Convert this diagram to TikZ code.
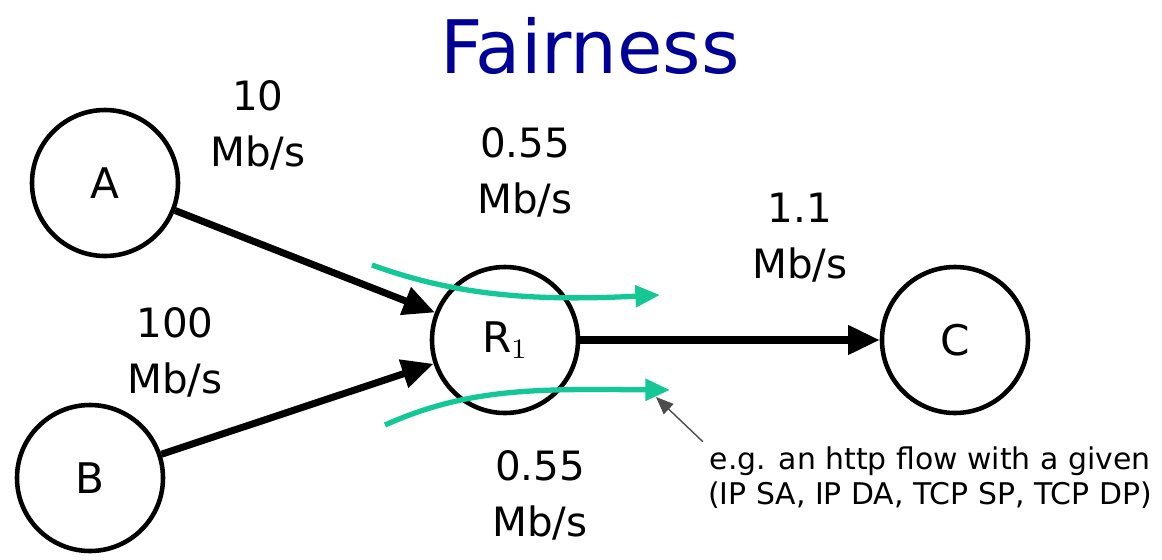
\documentclass[tikz,border=0pt]{standalone}
\usepackage{fontspec}
\setmainfont{DejaVu Sans}
\usepackage{xcolor}
\usetikzlibrary{arrows.meta,positioning}
\definecolor{titleblue}{RGB}{0,0,150}
\definecolor{flowgreen}{RGB}{20,200,150}

\begin{document}
\begin{tikzpicture}[x=1cm,y=1cm,
  hostnode/.style={circle, draw=black, line width=1.3pt, minimum size=1.46cm,
    inner sep=0pt, font=\fontsize{12}{14}\selectfont},
  rate/.style={align=center, font=\fontsize{11.5}{16}\selectfont},
  link/.style={-{Triangle[length=9pt,width=8pt]}, line width=2pt, black},
  flow/.style={-{Triangle[length=7pt,width=6pt]}, line width=1.5pt, flowgreen},
  note/.style={align=center, font=\fontsize{8.5}{10}\selectfont}
]
  \useasboundingbox (0,0) rectangle (11.62,5.59);

  % title
  \node[text=titleblue, font=\fontsize{21}{25}\selectfont] (title) at (5.9,5.13) {Fairness};

  % hosts
  \node[hostnode] (A) at (1.05,3.76) {A};
  \node[hostnode] (B) at (0.90,0.81) {B};
  \node[hostnode] (R1) at (5.05,2.19) {R$_1$};
  \node[hostnode] (C) at (9.55,2.19) {C};

  % links
  \draw[link] (A) -- (R1);
  \draw[link] (B) -- (R1);
  \draw[link] (R1) -- (C);

  % rates
  \node[rate] (rA) at (2.58,4.34) {10\\Mb/s};
  \node[rate] (rB) at (1.75,2.07) {100\\Mb/s};
  \node[rate] (rtop) at (5.25,3.87) {0.55\\Mb/s};
  \node[rate] (rC) at (8.00,3.21) {1.1\\Mb/s};
  \node[rate] (rbot) at (5.40,0.64) {0.55\\Mb/s};

  % flows
  \coordinate (f1s) at (3.72,2.94);
  \coordinate (f1e) at (6.60,2.64);
  \coordinate (f2s) at (3.85,1.34);
  \coordinate (f2e) at (6.70,1.69);
  \draw[flow] (f1s) .. controls (4.6,2.62) and (5.4,2.58) .. (f1e);
  \draw[flow] (f2s) .. controls (4.7,1.72) and (5.4,1.70) .. (f2e);

  % annotation
  \node[note] (eg) at (9.30,0.81) {e.g. an http flow with a given\\(IP SA, IP DA, TCP SP, TCP DP)};
  \coordinate (egtip) at (6.56,1.62);
  \draw[-{Triangle[length=5pt,width=4pt]}, thin, black!70] ([xshift=2pt,yshift=-2pt]eg.north west) -- (egtip);
\end{tikzpicture}
\end{document}
